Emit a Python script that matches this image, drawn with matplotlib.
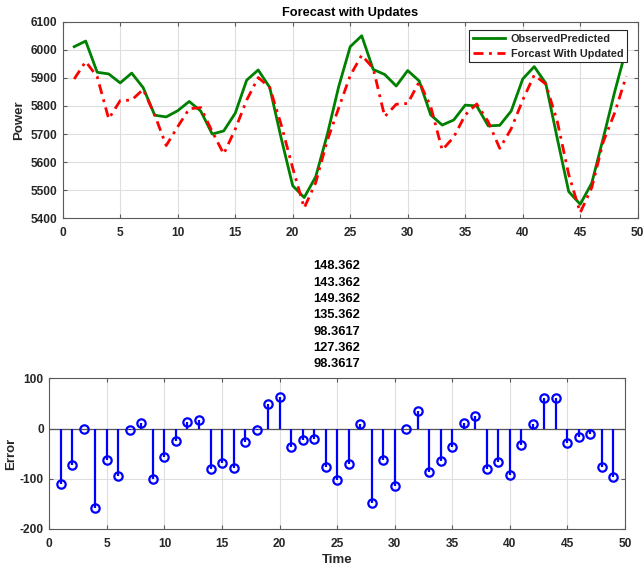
import matplotlib
matplotlib.use("Agg")
import matplotlib.pyplot as plt
import numpy as np

time = list(range(1, 50))
observed = [6011, 6031, 5920, 5914, 5882, 5917, 5865, 5767, 5761, 5783,
            5816, 5782, 5700, 5711, 5774, 5892, 5928, 5866, 5685, 5516,
            5474, 5548, 5697, 5869, 6011, 6050, 5930, 5912, 5871, 5926,
            5889, 5768, 5732, 5750, 5803, 5800, 5729, 5731, 5782, 5896,
            5940, 5881, 5685, 5495, 5450, 5525, 5685, 5851, 6003]
forecast = [5896, 5958, 5904, 5754, 5819, 5821, 5859, 5768, 5659, 5726,
            5790, 5794, 5709, 5629, 5717, 5821, 5901, 5866, 5733, 5579,
            5437, 5527, 5676, 5793, 5908, 5981, 5934, 5762, 5806, 5809,
            5886, 5798, 5643, 5689, 5768, 5807, 5744, 5649, 5719, 5821,
            5910, 5878, 5746, 5556, 5420, 5509, 5672, 5776, 5906]
error = [-110, -73, 0, -158, -63, -94, -3, 10, -101, -56,
         -25, 13, 17, -81, -69, -78, -27, -3, 48, 63,
         -36, -23, -21, -76, -103, -70, 8, -149, -62, -114,
         0, 35, -86, -64, -36, 11, 24, -81, -66, -92,
         -33, 8, 61, 61, -28, -16, -10, -77, -97]
title_lines = ["148.362", "143.362", "149.362", "135.362", "98.3617", "127.362", "98.3617"]

plt.rcParams['font.family'] = ['Liberation Sans', 'DejaVu Sans']
plt.rcParams['font.weight'] = 'bold'
plt.rcParams['axes.unicode_minus'] = False
txt = '#262626'
spine_c = '#5a5a5a'

fig = plt.figure(figsize=(6.43, 5.71), dpi=100)
ax1 = fig.add_axes([0.0975, 0.6177, 0.9918 - 0.0975, 0.962 - 0.6177])
ax2 = fig.add_axes([0.0767, 0.0736, 0.972 - 0.0767, 0.3375 - 0.0736])

for ax in (ax1, ax2):
    ax.grid(True, color='#dedede', linewidth=0.8)
    ax.set_axisbelow(True)
    ax.tick_params(direction='in', top=True, right=True, length=3,
                   labelsize=8.6, colors=spine_c, labelcolor=txt, width=0.8)
    ax.tick_params(axis='x', pad=6.5)
    ax.tick_params(axis='y', pad=4)
    for s in ax.spines.values():
        s.set_color(spine_c)
        s.set_linewidth(0.8)

ax1.plot(time, observed, color='#008000', linewidth=2, label='ObservedPredicted')
ax1.plot(time, forecast, color='#ff0000', linewidth=2, linestyle=(0, (3.6, 2, 1, 2)),
         label='Forcast With Updated')
ax1.set_xlim(0, 50)
ax1.set_ylim(5400, 6100)
ax1.set_xticks(range(0, 51, 5))
ax1.set_yticks(range(5400, 6101, 100))
ax1.set_ylabel('Power', fontsize=9.5, fontweight='bold', color=txt, labelpad=4)
ax1.set_title('Forecast with Updates', fontsize=9.2, fontweight='bold', color='black', pad=4)
leg = ax1.legend(loc='upper right', bbox_to_anchor=(0.9814, 0.958),
                 fontsize=7.8, frameon=True, fancybox=False,
                 edgecolor='#262626', framealpha=1, borderpad=0.35,
                 handlelength=3.0, labelspacing=0.45, borderaxespad=0.0,
                 handletextpad=0.5)
leg.get_frame().set_linewidth(0.8)
for t in leg.get_texts():
    t.set_fontweight('bold')
    t.set_color(txt)

markerline, stemlines, baseline = ax2.stem(time, error, basefmt=' ')
plt.setp(stemlines, color='#0000ff', linewidth=1.6)
plt.setp(markerline, color='#0000ff', marker='o', markersize=6,
         markerfacecolor='none', markeredgewidth=1.6)
ax2.axhline(0, color='#555555', linewidth=0.9, zorder=1.5)
ax2.set_xlim(0, 50)
ax2.set_ylim(-200, 100)
ax2.set_xticks(range(0, 51, 5))
ax2.set_yticks([-200, -100, 0, 100])
ax2.set_ylabel('Error', fontsize=9.5, fontweight='bold', color=txt, labelpad=2)
ax2.set_xlabel('Time', fontsize=9.5, fontweight='bold', color=txt, labelpad=3)
ax2.set_title("\n".join(title_lines), fontsize=9.3, fontweight='bold',
              color='black', pad=8, linespacing=1.48)

fig.savefig('out.png', dpi=100)
